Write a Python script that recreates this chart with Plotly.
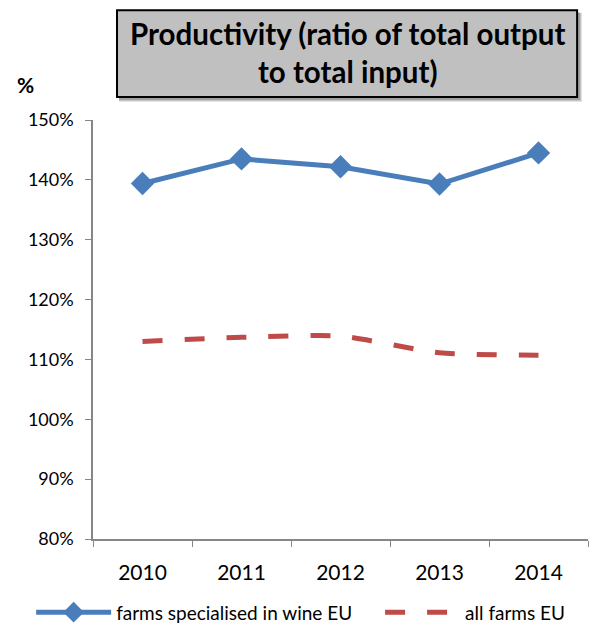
import plotly.graph_objects as go

# Productivity index (output / input, %)
years = ["2010", "2011", "2012", "2013", "2014"]
wine_farms = [139.4, 143.5, 142.2, 139.3, 144.5]
all_farms = [113.0, 113.7, 113.9, 111.1, 110.7]
y_ticks = [80, 90, 100, 110, 120, 130, 140, 150]
y_tick_text = [f"{v}%" for v in y_ticks]

FONT = "Lato"
AXIS_GREY = "#868686"
BLUE = "#4a7ebb"
RED = "#be4b48"

fig = go.Figure()

fig.add_trace(go.Scatter(
    x=years, y=wine_farms, name="farms specialised in wine EU",
    mode="lines+markers",
    line=dict(color=BLUE, width=5),
    marker=dict(symbol="diamond", size=18, color=BLUE),
    legend="legend",
))

fig.add_trace(go.Scatter(
    x=years, y=all_farms, name="all farms EU",
    mode="lines",
    line=dict(color=RED, width=5, dash="20px,22px", shape="spline", smoothing=0.6),
    legend="legend2",
))

# title box with soft drop shadow
box = dict(x0=0.0485, x1=0.978, y0=1.055, y1=1.262)
for i, op in enumerate([0.10, 0.14, 0.18]):
    off = 0.006 + 0.002 * (2 - i)
    fig.add_shape(type="rect", xref="paper", yref="paper",
                  x0=box["x0"] + 0.004, x1=box["x1"] + off,
                  y0=box["y0"] - off * 1.2, y1=box["y1"] - 0.006,
                  line=dict(width=0), fillcolor=f"rgba(0,0,0,{op})", layer="above")
fig.add_shape(type="rect", xref="paper", yref="paper",
              x0=box["x0"], x1=box["x1"], y0=box["y0"], y1=box["y1"],
              line=dict(color="black", width=2), fillcolor="#c0c0c0", layer="above")
fig.add_annotation(
    xref="paper", yref="paper", x=(box["x0"] + box["x1"]) / 2,
    y=(box["y0"] + box["y1"]) / 2 + 0.003,
    text="<b>Productivity (ratio of total output<br>to total input)</b>",
    showarrow=False, xanchor="center", yanchor="middle", align="center",
    font=dict(family=FONT, size=29.5, color="black"),
)

# unit label above the y axis
fig.add_annotation(
    xref="paper", yref="paper", x=-0.137, y=1.085,
    text="<b>%</b>", showarrow=False, xanchor="center", yanchor="middle",
    font=dict(family=FONT, size=21, color="black"),
)

legend_style = dict(orientation="h", yanchor="middle", y=-0.175, xanchor="left",
                    font=dict(family=FONT, size=19), itemwidth=75,
                    bgcolor="rgba(0,0,0,0)")

fig.update_layout(
    width=592, height=625,
    margin=dict(l=93, r=4, t=120, b=86, autoexpand=False),
    paper_bgcolor="white", plot_bgcolor="white",
    font=dict(family=FONT, size=18, color="black"),
    showlegend=True,
    legend=dict(legend_style, x=-0.125),
    legend2=dict(legend_style, x=0.58),
)

fig.update_xaxes(
    type="category", range=[-0.5, 4.5],
    showline=True, linecolor=AXIS_GREY, linewidth=1.5,
    ticks="outside", tickson="boundaries", ticklen=6, tickcolor=AXIS_GREY,
    ticklabelstandoff=14,
    showgrid=False, zeroline=False, fixedrange=True,
    tickfont=dict(family=FONT, size=21),
)
fig.update_yaxes(
    range=[80, 150], tickvals=y_ticks, ticktext=y_tick_text,
    showline=True, linecolor=AXIS_GREY, linewidth=1.5,
    ticks="outside", ticklen=6, tickcolor=AXIS_GREY,
    ticklabelstandoff=8,
    showgrid=False, zeroline=False,
    tickfont=dict(family=FONT, size=18),
)

fig.write_html("out.html")
